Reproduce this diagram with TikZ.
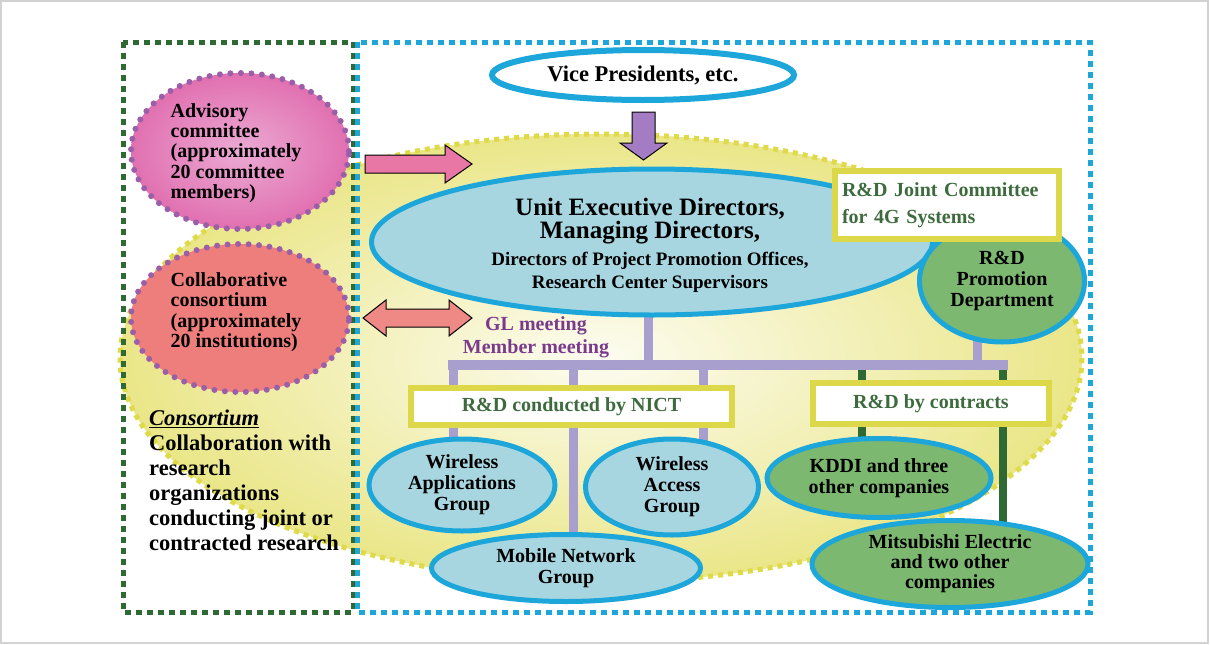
\documentclass[tikz,border=0pt]{standalone}
\usepackage{fontspec}
\setmainfont{Liberation Serif}
\usetikzlibrary{shapes.geometric}
\definecolor{cyanb}{HTML}{1CA6D9}
\definecolor{lblue}{HTML}{A8D6E0}
\definecolor{gfill}{HTML}{7DB870}
\definecolor{gtext}{HTML}{3E6B3E}
\definecolor{yboxc}{HTML}{DCD84A}
\definecolor{ybg}{HTML}{EAE688}
\definecolor{ybdr}{HTML}{DEDA48}
\definecolor{lav}{HTML}{A99FCF}
\definecolor{dgreen}{HTML}{2F6A34}
\definecolor{purp}{HTML}{7B3B8C}
\definecolor{pinko}{HTML}{E170B0}
\definecolor{pinkc}{HTML}{EBAAD4}
\definecolor{salmon}{HTML}{EE7E7B}
\definecolor{dotp}{HTML}{9A5FA8}
\definecolor{arrowp}{HTML}{A47CC4}
\definecolor{arrowk}{HTML}{E877A6}
\definecolor{arrows}{HTML}{EE8985}
\begin{document}
\begin{tikzpicture}[x=1pt,y=-1pt,
  bf/.style={font=\fontsize{20}{21}\selectfont\bfseries},
  blueell/.style={ellipse, draw=cyanb, line width=5pt, fill=lblue, inner sep=0pt, align=center, bf},
  greenell/.style={blueell, fill=gfill},
  yrect/.style={rectangle, draw=yboxc, line width=6pt, fill=white, inner sep=0pt, align=center, text=gtext, bf},
  lavline/.style={draw=lav, line width=9pt},
  grline/.style={draw=dgreen, line width=8pt},
  dotell/.style={ellipse, draw=dotp, line width=6pt, line cap=round, dash pattern=on 0pt off 10.5pt, inner sep=0pt},
  blockarrow/.style={draw=black, line width=1pt, line join=miter},
]
\useasboundingbox (0,0) rectangle (1210,645);
\fill[white] (0,0) rectangle (1210,645);
\draw[gray!35, line width=1.5pt] (1,1) rectangle (1208,643);

% big yellow area
\shade[inner color=ybg!12, outer color=ybg] (601,358) ellipse [x radius=481, y radius=224];
\draw[ybdr, line width=5pt, dash pattern=on 5pt off 5pt] (601,358) ellipse [x radius=481, y radius=224];

% frames
\draw[dgreen, line width=5pt, dash pattern=on 6pt off 5pt] (123,42) rectangle (353,612);
\draw[cyanb, line width=5pt, dash pattern=on 6pt off 5pt] (357,42) rectangle (1090,612);

% left ellipses
\node[dotell, shade, inner color=pinkc, outer color=pinko, minimum width=218, minimum height=156] (adv) at (240,151) {};
\node[font=\fontsize{20}{20.3}\selectfont\bfseries, align=left] (advtxt) at (236,153) {Advisory\\committee\\(approximately\\20 committee\\members)};
\node[dotell, fill=salmon, minimum width=218, minimum height=148] (collab) at (240,318) {};
\node[font=\fontsize{20}{20.5}\selectfont\bfseries, align=left] (collabtxt) at (236,312) {Collaborative\\consortium\\(approximately\\20 institutions)};

\node[font=\fontsize{22.5}{25}\selectfont\bfseries, align=left, anchor=north west, inner sep=0pt] (cons) at (149,410)
 {\underline{\textit{Consortium}}\\Collaboration with\\research\\organizations\\conducting joint or\\contracted research};

% connector tree
\coordinate (barL) at (448,365);
\coordinate (barR) at (1008,365);
\draw[grline] (862,365) -- (862,445);
\draw[grline] (1003,365) -- (1003,525);
\draw[lavline] (453,365) -- (453,445);
\draw[lavline] (573,365) -- (573,540);
\draw[lavline] (703,365) -- (703,445);
\draw[lavline] (648,300) -- (648,365);
\draw[lavline] (977,330) -- (977,365);
\draw[lavline, line width=10pt] (barL) -- (barR);

\node[font=\fontsize{20}{23}\selectfont\bfseries, text=purp, align=center] (meet) at (536,337) {GL meeting\\Member meeting};

% boxes
\node[yrect, minimum width=321, minimum height=37] (nict) at (571.5,406.5) {R\&D conducted by NICT};
\node[yrect, minimum width=236, minimum height=41] (contr) at (931,403.5) {R\&D by contracts};

% group ellipses
\node[blueell, minimum width=186, minimum height=92] (wag) at (462,485) {Wireless\\Applications\\Group};
\node[blueell, minimum width=173, minimum height=96] (wacc) at (672,487) {Wireless\\Access\\Group};
\node[blueell, minimum width=269, minimum height=67] (mng) at (566,568) {Mobile Network\\Group};
\node[greenell, minimum width=224, minimum height=79] (kddi) at (879,478) {KDDI and three\\other companies};
\node[greenell, minimum width=276, minimum height=87, font=\fontsize{20}{20}\selectfont\bfseries] (mitsu) at (950,564) {Mitsubishi Electric\\and two other\\companies};

% main
\node[blueell, minimum width=561, minimum height=146] (main) at (652,242) {};
\node[font=\fontsize{25}{23}\selectfont\bfseries, align=center] (maintop) at (650,221) {Unit Executive Directors,\\Managing Directors,};
\node[font=\fontsize{19}{23}\selectfont\bfseries, align=center] (mainbot) at (650,272) {Directors of Project Promotion Offices,\\Research Center Supervisors};

\node[greenell, minimum width=165, minimum height=122] (promo) at (1002,281) {R\&D\\Promotion\\Department};
\node[yrect, minimum width=224, minimum height=68, align=left, text width=210pt, font=\fontsize{20}{27}\selectfont\bfseries] (joint) at (947,205) {R\&D Joint Committee\\for 4G Systems};

% top
\node[blueell, fill=white, line width=6pt, minimum width=302, minimum height=50, font=\fontsize{22.5}{24}\selectfont\bfseries] (vp) at (643,75) {Vice Presidents, etc.};

% block arrows
\draw[blockarrow, fill=arrowp] (632,112) -- (655,112) -- (655,143) -- (667,143) -- (643.5,160) -- (620,143) -- (632,143) -- cycle;
\draw[blockarrow, fill=arrowk] (365,155) -- (445,155) -- (445,145) -- (472,164) -- (445,183) -- (445,173) -- (365,173) -- cycle;
\draw[blockarrow, fill=arrows] (363,318) -- (386,300) -- (386,309) -- (449,309) -- (449,300) -- (472,318) -- (449,336) -- (449,327) -- (386,327) -- (386,336) -- cycle;
\end{tikzpicture}
\end{document}
